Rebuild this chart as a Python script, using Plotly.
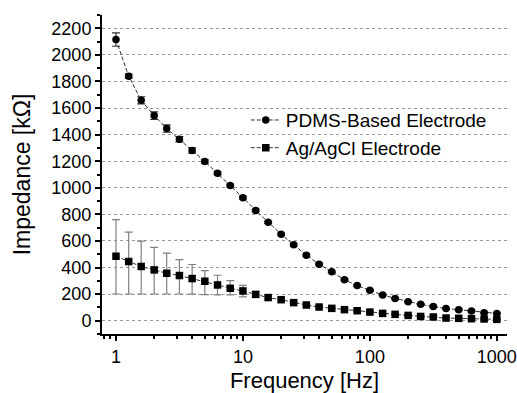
import plotly.graph_objects as go

# Frequencies [Hz]
freq = [1.0, 1.26, 1.58, 2.0, 2.51, 3.16, 3.98, 5.01, 6.31, 7.94,
        10.0, 12.6, 15.8, 20.0, 25.1, 31.6, 39.8, 50.1, 63.1, 79.4,
        100.0, 126, 158, 200, 251, 316, 398, 501, 631, 794, 1000]

# PDMS-Based Electrode impedance [kOhm] and error
pdms = [2115, 1840, 1658, 1543, 1446, 1366, 1281, 1198, 1109, 1017,
        926, 830, 740, 651, 571, 493, 425, 368, 309, 264,
        229, 194, 168, 143, 123, 106, 91, 83, 73, 60, 55]
pdms_err = [50, 15, 27, 28, 28, 20, 20, 12, 10, 10,
            10, 8, 8, 8, 8, 8, 6, 6, 6, 6,
            5, 5, 5, 5, 5, 4, 4, 4, 4, 4, 4]

# Ag/AgCl Electrode impedance [kOhm] and asymmetric error
agcl = [485, 445, 408, 382, 357, 340, 317, 297, 269, 244,
        224, 198, 174, 158, 136, 118, 103, 93, 83, 75,
        65, 55, 48, 40, 32, 28, 20, 18, 15, 13, 10]
agcl_err_plus = [275, 221, 190, 169, 151, 120, 106, 80, 73, 58,
                 42, 20, 10, 8, 8, 6, 6, 5, 5, 5,
                 5, 4, 4, 4, 4, 4, 4, 4, 4, 4, 4]
agcl_err_minus = [284, 244, 207, 181, 156, 139, 117, 101, 75, 50,
                  45, 22, 10, 8, 8, 6, 6, 5, 5, 5,
                  5, 4, 4, 4, 4, 4, 4, 4, 4, 4, 4]

x_major = [1, 10, 100, 1000]
x_labels = ["1", "10", "100", "1000"]
x_minor = [0.8, 0.9, 2, 3, 4, 5, 6, 7, 8, 9, 20, 30, 40, 50, 60, 70, 80, 90,
           200, 300, 400, 500, 600, 700, 800, 900]
y_major = [0, 200, 400, 600, 800, 1000, 1200, 1400, 1600, 1800, 2000, 2200]
y_minor = [-100, 100, 300, 500, 700, 900, 1100, 1300, 1500, 1700, 1900, 2100, 2300]

FONT = "Arial, Liberation Sans, sans-serif"

fig = go.Figure()
fig.add_trace(go.Scatter(
    x=freq, y=agcl, name="Ag/AgCl Electrode", mode="lines+markers",
    line=dict(color="#333333", width=1, dash="4px,2px"),
    marker=dict(symbol="square", size=7.5, color="black"),
    error_y=dict(type="data", array=agcl_err_plus, arrayminus=agcl_err_minus,
                 symmetric=False, color="#808080", thickness=1.2, width=4),
))
fig.add_trace(go.Scatter(
    x=freq, y=pdms, name="PDMS-Based Electrode", mode="lines+markers",
    line=dict(color="#333333", width=1, dash="4px,2px"),
    marker=dict(symbol="circle", size=7.5, color="black"),
    error_y=dict(type="data", array=pdms_err, color="#333333", thickness=1.2, width=4),
))

fig.update_layout(
    width=517, height=393,
    margin=dict(l=102, r=10, t=15, b=59),
    paper_bgcolor="white", plot_bgcolor="white",
    font=dict(family=FONT, color="black"),
    legend=dict(x=0.355, y=0.73, xanchor="left", yanchor="top",
                traceorder="reversed", font=dict(size=19, family=FONT),
                bgcolor="rgba(0,0,0,0)", borderwidth=0, tracegroupgap=0),
    showlegend=True,
)
fig.update_xaxes(
    type="log", range=[-0.11, 3.08], automargin=False,
    tickmode="array", tickvals=x_major, ticktext=x_labels,
    ticks="outside", ticklen=5, tickwidth=1.5, tickcolor="black",
    minor=dict(tickmode="array", tickvals=x_minor, ticks="outside", ticklen=3,
               tickwidth=1.5, tickcolor="black", showgrid=False),
    showline=True, linecolor="black", linewidth=2,
    showgrid=False, zeroline=False,
    tickfont=dict(size=18, family=FONT),
    title=dict(text="Frequency [Hz]", font=dict(size=22, family=FONT), standoff=8),
)
fig.update_yaxes(
    range=[-100, 2300], automargin=False,
    tickmode="array", tickvals=y_major,
    ticks="outside", ticklen=5, tickwidth=1.5, tickcolor="black",
    minor=dict(tickmode="array", tickvals=y_minor,
               ticks="outside", ticklen=3, tickwidth=1.5, tickcolor="black", showgrid=False),
    showline=True, linecolor="black", linewidth=2,
    showgrid=True, gridcolor="#999999", griddash="dot", gridwidth=1,
    zeroline=False,
    tickfont=dict(size=18, family=FONT),
    title=dict(text="Impedance [kΩ]", font=dict(size=23, family=FONT), standoff=14),
)

fig.write_html("out.html")
